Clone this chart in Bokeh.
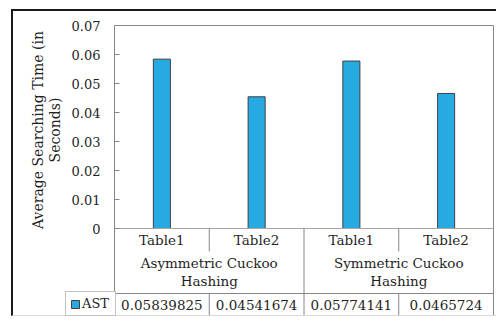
import math
from bokeh.plotting import figure
from bokeh.models import (Range1d, FixedTicker, LinearAxis, Legend, LegendItem,
                          ColumnDataSource)
from bokeh.core.properties import value
from bokeh.embed import file_html
from bokeh.resources import INLINE

# ---- data -------------------------------------------------------------
groups = ["Asymmetric Cuckoo Hashing", "Symmetric Cuckoo Hashing"]
group_labels = ["Asymmetric Cuckoo\nHashing", "Symmetric Cuckoo\nHashing"]
tables = ["Table1", "Table2"]
series_name = "AST"
ast = [0.05839825, 0.04541674, 0.05774141, 0.0465724]
ast_labels = ["0.05839825", "0.04541674", "0.05774141", "0.0465724"]
y_ticks = [0, 0.01, 0.02, 0.03, 0.04, 0.05, 0.06, 0.07]
y_tick_labels = ["0", "0.01", "0.02", "0.03", "0.04", "0.05", "0.06", "0.07"]
y_title = "Average Searching Time (in\nSeconds)"

# ---- layout constants (pixels) ---------------------------------------
FONT = "DejaVu Serif"
TEXT = "#1f1f1f"
LINE = "#868686"
SLOT = 94.75            # width of one category column
LEFT_PX = 101           # space left of the value axis
RIGHT_PX = 5            # space right of the last column
VALUE_PX = 203          # height of the 0 .. 0.07 value area
PX = y_ticks[-1] / VALUE_PX

n_cat = len(groups) * len(tables)
x_cat = [i + 0.5 for i in range(n_cat)]                  # column centres
x_grp = [len(tables) * (g + 0.5) for g in range(len(groups))]
cat_text = [t for _ in groups for t in tables]

Y_TABLE_ROW = -23 * PX   # bottom of the Table1/Table2 row
Y_DATA_TOP = -65 * PX    # top of the data row
Y_BOTTOM = -88 * PX      # bottom of the data row

p = figure(
    x_range=Range1d(-LEFT_PX / SLOT, n_cat + RIGHT_PX / SLOT),
    y_range=Range1d(-90 * PX, y_ticks[-1] + 14 * PX),
    width=485, height=307,
    x_axis_location=None, y_axis_location=None,
    output_backend="svg", toolbar_location=None,
    min_border_left=0, min_border_right=0,
    min_border_top=0, min_border_bottom=0,
)
p.margin = (9, 0, 0, 11)
p.styles = {"border-top": "2px solid #1a1a1a",
            "border-left": "2px solid #1a1a1a",
            "border-bottom": "1px solid #d9d9d9"}
p.outline_line_color = None
p.background_fill_color = "white"
p.border_fill_color = "white"
p.grid.visible = False

# ---- value axis, pinned to the left edge of the table -----------------
ax = LinearAxis(fixed_location=0, bounds=(0, y_ticks[-1]),
                ticker=FixedTicker(ticks=y_ticks))
ax.major_label_overrides = {t: l for t, l in zip(y_ticks, y_tick_labels)}
ax.minor_tick_line_color = None
ax.major_tick_in = 5
ax.major_tick_out = 0
ax.major_tick_line_color = LINE
ax.axis_line_color = LINE
ax.major_label_standoff = 14
ax.major_label_text_font = FONT
ax.major_label_text_font_size = "13px"
ax.major_label_text_color = TEXT
p.add_layout(ax, "left")

# axis title, centred on the value range
p.text(x=[0], y=[(y_ticks[0] + y_ticks[-1]) / 2], text=[y_title],
       angle=math.pi / 2, x_offset=-68, y_offset=3,
       text_align="center", text_baseline="middle",
       text_font=value(FONT), text_font_size="14px", text_color=TEXT,
       text_line_height=1.05)

# ---- bars -------------------------------------------------------------
src = ColumnDataSource(dict(x=x_cat, top=ast, label=ast_labels,
                            cat=cat_text, zero=[0] * n_cat))
bars = p.vbar(x="x", top="top", width=0.18, source=src,
              fill_color="#27a9e1", line_color="#404040", line_width=1)

# ---- plot box, category rows and data table ---------------------------
p.segment(x0=[0, n_cat, 0, 0, 0], x1=[n_cat, n_cat, n_cat, n_cat, 0],
          y0=[y_ticks[-1], y_ticks[-1], Y_DATA_TOP, Y_BOTTOM, 0],
          y1=[y_ticks[-1], Y_BOTTOM, Y_DATA_TOP, Y_BOTTOM, Y_BOTTOM],
          line_color=LINE, line_width=1)
p.segment(x0=[0], x1=[n_cat], y0=[0], y1=[0], line_color="#a6a6a6", line_width=1)

# column separators: full height between groups, split around group names
group_edges = [len(tables) * g for g in range(1, len(groups))]
inner_edges = [len(tables) * g + k for g in range(len(groups))
               for k in range(1, len(tables))]
p.segment(x0=group_edges, x1=group_edges, y0=[0] * len(group_edges),
          y1=[Y_BOTTOM] * len(group_edges), line_color=LINE, line_width=1)
p.segment(x0=inner_edges * 2, x1=inner_edges * 2,
          y0=[0] * len(inner_edges) + [Y_DATA_TOP] * len(inner_edges),
          y1=[Y_TABLE_ROW] * len(inner_edges) + [Y_BOTTOM] * len(inner_edges),
          line_color=LINE, line_width=1)

p.text(x="x", y="zero", text="cat", source=src,
       y_offset=11.5, text_align="center", text_baseline="middle",
       text_font=value(FONT), text_font_size="13.5px", text_color=TEXT)
p.text(x=x_grp, y=[0] * len(x_grp), text=group_labels,
       y_offset=43.5, text_align="center", text_baseline="middle",
       text_font=value(FONT), text_font_size="13.5px", text_color=TEXT,
       text_line_height=1.13)
p.text(x="x", y="zero", text="label", source=src,
       y_offset=76.5, text_align="center", text_baseline="middle",
       text_font=value(FONT), text_font_size="13.5px", text_color=TEXT)

# legend key cell at the left end of the data row
legend = Legend(items=[LegendItem(label=series_name, renderers=[bars])],
                location=(52, 2), margin=0, padding=4, spacing=0,
                glyph_width=10, glyph_height=10, label_standoff=2,
                label_width=29, label_height=15,
                label_text_font=FONT, label_text_font_size="13px",
                label_text_color=TEXT,
                border_line_color=LINE, border_line_width=1,
                background_fill_color="white", background_fill_alpha=1)
p.add_layout(legend)

open("out.html", "w").write(file_html(p, INLINE))
